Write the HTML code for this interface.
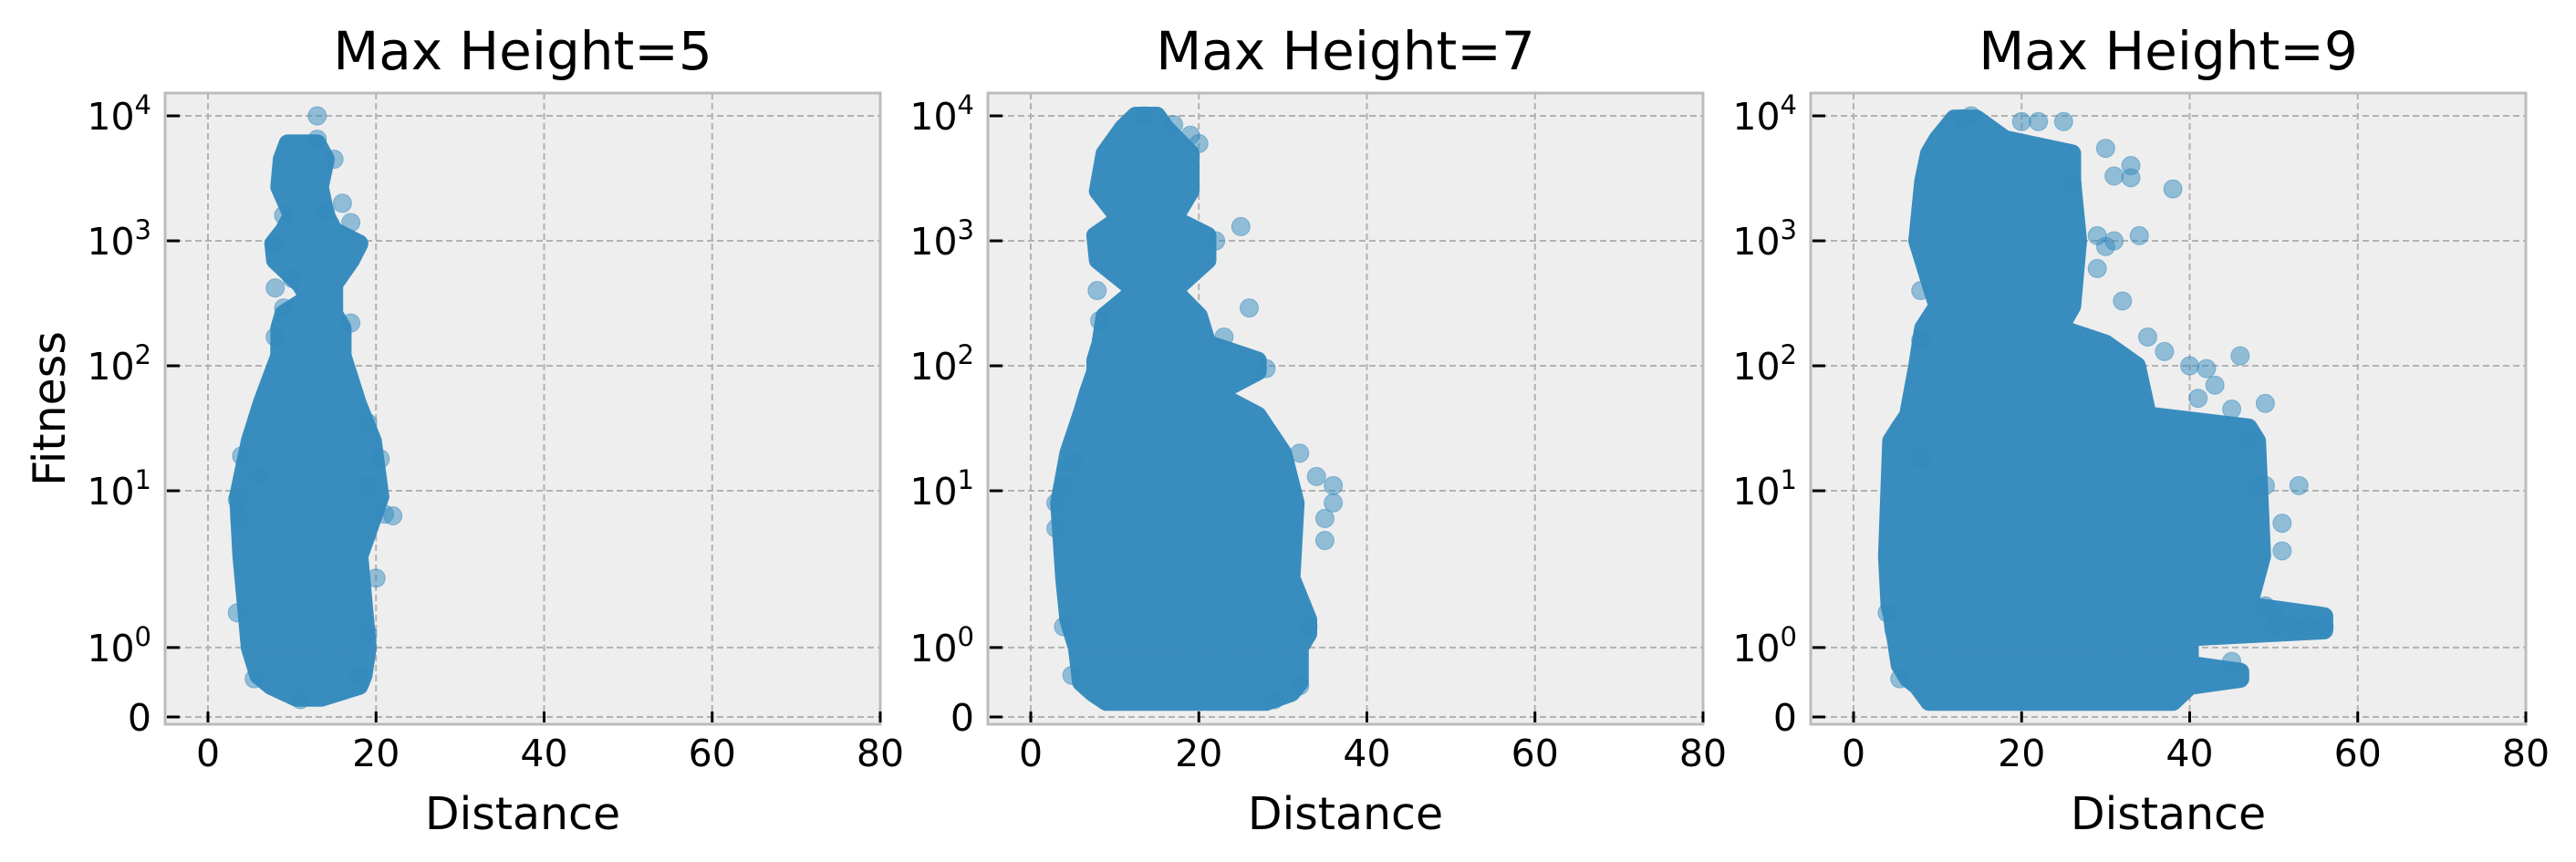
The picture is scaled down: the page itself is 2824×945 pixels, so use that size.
<!DOCTYPE html>
<html><head><meta charset="utf-8"><style>
html,body{margin:0;padding:0;background:#fff;}
svg{display:block;font-family:"DejaVu Sans","Liberation Sans",sans-serif;}
</style></head><body>
<svg id="fig" width="2824" height="945" viewBox="0 0 2824 945" xmlns="http://www.w3.org/2000/svg"></svg>
<script>
// ---- data ----
const panelTitles = ["Max Height=5", "Max Height=7", "Max Height=9"];
const xTicks = [0, 20, 40, 60, 80];
const yTicks = [0, 1, 10, 100, 1000, 10000];
const yTickExp = ["", "0", "1", "2", "3", "4"];

// dense cores: fitness levels with min/max distance
const coreFit1 = [0.28, 0.45, 0.6, 1, 3, 9, 25, 50, 120, 200, 260, 350, 450, 700, 950, 1200, 1600, 2700, 4500, 6000];
const coreMin1 = [10.5, 7.5, 6, 5, 4, 3.6, 5, 6.4, 8.5, 8.5, 9, 12, 11, 8, 7.8, 9, 10, 8.5, 8.8, 9.5];
const coreMax1 = [13.5, 18, 18.5, 19, 18, 20.5, 19.6, 17.8, 16, 16, 15, 15, 15, 17, 18, 15, 14, 13.3, 14, 13];

const coreFit2 = [0.22, 0.35, 0.5, 1, 1.2, 1.4, 2, 8, 20, 40, 60, 90, 110, 150, 250, 400, 700, 1100, 1500, 2500, 5000, 8000, 10000];
const coreMin2 = [9, 7.4, 6, 5.5, 5, 4.5, 4, 3.4, 4.5, 6, 6.8, 7.7, 7.7, 8.3, 8.8, 12.5, 8, 7.7, 10.6, 8, 8.8, 11, 12.5];
const coreMax2 = [28, 31, 32, 32, 33, 33, 31, 31.5, 30, 27, 22, 27, 27, 21, 20, 17, 21, 21, 17, 19, 19, 16, 15];

const coreFit3 = [0.22, 0.45, 0.55, 0.65, 0.75, 1.15, 1.25, 1.45, 1.6, 3, 25, 32, 40, 100, 150, 200, 300, 1000, 3000, 5000, 6500, 9500];
const coreMin3 = [9, 7.6, 6.5, 6, 5.5, 5, 4.8, 4.6, 4.3, 4, 4.5, 5.5, 6.5, 7.6, 8, 8.3, 10, 7.6, 8.3, 9, 10, 12];
const coreMax3 = [38, 40, 46, 46, 40, 40, 56, 56, 47, 48.6, 48, 47, 35, 33.7, 30, 24.5, 26, 26.7, 26, 26, 18, 14.6];

// sparse outlying points
const outDist1 = [13, 13, 15, 16, 17, 14, 9, 8, 8, 10, 9, 8, 17, 19, 20.5, 22, 21, 3.5, 5.5, 11, 3.8, 3.5, 4, 20, 19, 18, 19, 6];
const outFit1 = [10000, 6500, 4500, 2000, 1400, 1700, 1600, 950, 420, 500, 290, 170, 220, 35, 18, 6.3, 6.5, 1.5, 0.55, 0.25, 6, 8.5, 19, 2, 1.2, 0.6, 11, 13];

const outDist2 = [13.5, 17, 19, 25, 26, 23, 28, 32, 34, 36, 36, 35, 35, 3.9, 4.9, 33, 32, 29, 7.9, 8.2, 5, 4, 3, 3, 20, 22];
const outFit2 = [10000, 8500, 7000, 1300, 290, 170, 95, 20, 13, 11, 8, 6, 4, 1.3, 0.6, 1.3, 0.45, 0.25, 400, 230, 17, 11, 8, 5, 6000, 1000];

const outDist3 = [14, 20, 22, 25, 30, 33, 31, 33, 38, 29, 30, 31, 34, 29, 32, 35, 37, 40, 42, 46, 43, 45, 49, 41, 47, 48, 49, 53, 51, 51, 49, 50, 45, 4, 5.5, 8, 50, 52, 54, 56, 8, 8, 13, 26];
const outFit3 = [10000, 9000, 9000, 9000, 5500, 4000, 3300, 3200, 2600, 1100, 900, 1000, 1100, 600, 330, 170, 130, 100, 95, 120, 70, 45, 50, 55, 25, 11, 11, 11, 5.5, 3.3, 1.6, 1.5, 0.8, 1.5, 0.55, 18, 1.3, 1.3, 1.3, 1.3, 400, 160, 9500, 2900];

const cores = [[coreFit1, coreMin1, coreMax1], [coreFit2, coreMin2, coreMax2], [coreFit3, coreMin3, coreMax3]];
const outs = [[outDist1, outFit1], [outDist2, outFit2], [outDist3, outFit3]];

// ---- layout ----
const NS = "http://www.w3.org/2000/svg";
const svg = document.getElementById("fig");
const panelLeft = [181, 1083, 1985];
const PW = 784, PT = 102, PB = 794;
const XMIN = -5.1, XMAX = 80;
const Y0 = 786, DEC = 137;
const COLOR = "#348ABD", R = 10;

function symlog(v) { return v <= 2 ? v / 2 * 1.1111 : 1.1111 + Math.log10(v / 2); }
function mk(tag, attrs, parent) {
  const e = document.createElementNS(NS, tag);
  for (const k in attrs) e.setAttribute(k, attrs[k]);
  (parent || svg).appendChild(e);
  return e;
}

for (let p = 0; p < 3; p++) {
  const L = panelLeft[p], Rt = L + PW;
  const xs = d => L + (d - XMIN) / (XMAX - XMIN) * PW;
  const ys = v => Y0 - symlog(v) * DEC;
  const g = mk("g", {});
  
  

  const bg = mk("rect", { x: L, y: PT, width: PW, height: PB - PT, fill: "#eeeeee" }, g);
  
  

  xTicks.forEach(t => {
    const l = mk("line", { x1: xs(t), x2: xs(t), y1: PT, y2: PB, stroke: "#b2b2b2", "stroke-width": 2, "stroke-dasharray": "7,4" }, g);
    
    
  });
  yTicks.forEach(t => {
    const l = mk("line", { x1: L, x2: Rt, y1: ys(t), y2: ys(t), stroke: "#b2b2b2", "stroke-width": 2, "stroke-dasharray": "7,4" }, g);
    
    
  });

  const cp = mk("clipPath", { id: "clip" + p }, g);
  mk("rect", { x: L, y: PT, width: PW, height: PB - PT }, cp);
  const dg = mk("g", { "clip-path": "url(#clip" + p + ")" }, g);
  
  

  const [cf, cmin, cmax] = cores[p];
  const pts = [];
  for (let i = 0; i < cf.length; i++) pts.push(xs(cmin[i]).toFixed(1) + "," + ys(cf[i]).toFixed(1));
  for (let i = cf.length - 1; i >= 0; i--) pts.push(xs(cmax[i]).toFixed(1) + "," + ys(cf[i]).toFixed(1));
  const core = mk("polygon", { points: pts.join(" "), fill: COLOR, stroke: COLOR, "stroke-width": 2 * R, "stroke-linejoin": "round", opacity: 0.97 }, dg);
  
  

  const [od, of] = outs[p];
  for (let i = 0; i < od.length; i++) {
    const c = mk("circle", { cx: xs(od[i]), cy: ys(of[i]), r: R, fill: COLOR, "fill-opacity": 0.5, stroke: COLOR, "stroke-opacity": 0.5, "stroke-width": 1 }, dg);
    
    
  }

  const fr = mk("rect", { x: L, y: PT, width: PW, height: PB - PT, fill: "none", stroke: "#bcbcbc", "stroke-width": 3 }, g);
  
  

  xTicks.forEach(t => {
    const tk = mk("line", { x1: xs(t), x2: xs(t), y1: PB - 14, y2: PB - 2, stroke: "#000", "stroke-width": 3 }, g);
    
    
    const tx = mk("text", { x: xs(t), y: 840, "font-size": 41, "text-anchor": "middle", fill: "#000" }, g);
    tx.textContent = t;
    
    
  });
  yTicks.forEach((t, i) => {
    const tk = mk("line", { x1: L + 2, x2: L + 16, y1: ys(t), y2: ys(t), stroke: "#000", "stroke-width": 3 }, g);
    
    
    const tx = mk("text", { x: L - 15, y: ys(t) + 15, "font-size": 41, "text-anchor": "end", fill: "#000" }, g);
    
    
    if (yTickExp[i] === "") { tx.textContent = "0"; }
    else {
      const a = mk("tspan", {}, tx); a.textContent = "10";
      const b = mk("tspan", { dy: -17, "font-size": 29 }, tx); b.textContent = yTickExp[i];
    }
  });

  const title = mk("text", { x: L + PW / 2, y: 76, "font-size": 58, "text-anchor": "middle", fill: "#000" }, g);
  title.textContent = panelTitles[p];
  
  

  const xl = mk("text", { x: L + PW / 2, y: 909, "font-size": 49, "text-anchor": "middle", fill: "#000" }, g);
  xl.textContent = "Distance";
  
  

  if (p === 0) {
    const yl = mk("text", { x: 0, y: 0, "font-size": 49, "text-anchor": "middle", fill: "#000", transform: "translate(71,448) rotate(-90)" }, g);
    yl.textContent = "Fitness";
    
    
  }
}
</script>
</body></html>
